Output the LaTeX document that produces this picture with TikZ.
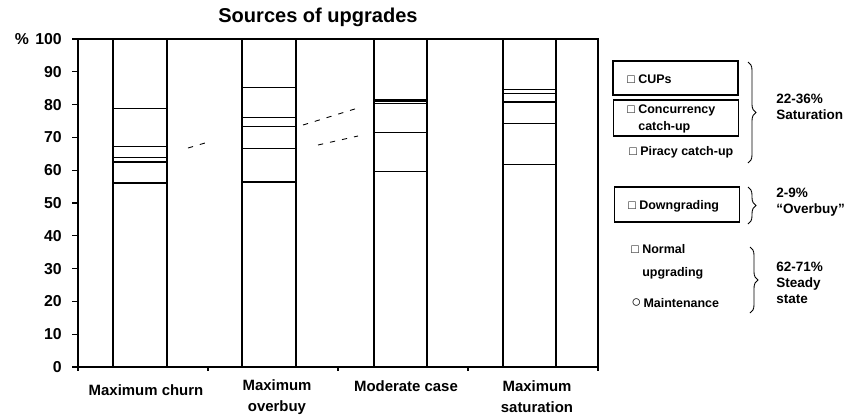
\documentclass[tikz,border=0pt]{standalone}
\usepackage{fontspec}
\setmainfont{Liberation Sans}
\usetikzlibrary{decorations.pathreplacing,positioning}

\tikzset{
  frame/.style={line width=0.6pt},
  bar/.style={draw, line width=0.6pt},
  guide/.style={dashed, line width=0.5pt, dash pattern=on 3pt off 4pt},
  legbox/.style={draw, line width=0.6pt, minimum width=2.5cm, inner sep=0pt},
  legtext/.style={anchor=west, inner sep=0pt, align=left,
    font=\fontsize{7.1}{9.6}\selectfont\bfseries},
  sumtext/.style={anchor=west, inner sep=0pt, align=left,
    font=\fontsize{7.7}{9}\selectfont\bfseries},
  axtext/.style={inner sep=0pt, align=center,
    font=\fontsize{8.5}{12}\selectfont\bfseries},
  ticktext/.style={anchor=east, inner sep=0pt,
    font=\fontsize{9}{10}\selectfont\bfseries},
  curly/.style={decorate, decoration={brace, amplitude=0.16cm}, line width=0.5pt},
  declare function={py(\v)=367-3.28*\v;}
}

\begin{document}
\begin{tikzpicture}[x=0.02cm, y=-0.02cm]
      \useasboundingbox (0,0) rectangle (849,417);

      % title
      \node[font=\fontsize{11.4}{13}\selectfont\bfseries] (title) at (318,17) {Sources of upgrades};

      % frame and axis
      \draw[frame] (78,{py(0)}) rectangle (598,{py(100)});
      \foreach \v in {0,10,...,100} {
        \draw[frame] (72,{py(\v)}) -- (78,{py(\v)});
        \node[ticktext] (t\v) at (62,{py(\v)}) {\v};
      }
      \node[ticktext, anchor=center] (pct) at (22,{py(100)}) {\%};
      \foreach \x in {78,208,338,468,598}
        \draw[frame] (\x,{py(0)}) -- (\x,{py(0)+4});

      % the four bars, each cut at its stacked shares
      \draw[bar] (113,{py(0)}) rectangle (167,{py(100)});
      \foreach \v in {78.7,67.1,64.0,62.5,56.1}
        \draw[frame] (113,{py(\v)}) -- (167,{py(\v)});

      \draw[bar] (242,{py(0)}) rectangle (296,{py(100)});
      \foreach \v in {85.1,76.2,73.2,66.5,56.4}
        \draw[frame] (242,{py(\v)}) -- (296,{py(\v)});

      \draw[bar] (374,{py(0)}) rectangle (427,{py(100)});
      \foreach \v in {81.7,81.1,80.2,71.6,59.5}
        \draw[frame] (374,{py(\v)}) -- (427,{py(\v)});

      \draw[bar] (503,{py(0)}) rectangle (556,{py(100)});
      \foreach \v in {84.7,83.5,80.8,74.1,61.6}
        \draw[frame] (503,{py(\v)}) -- (556,{py(\v)});

      % dashed guides between bars
      \coordinate (g1a) at (188,148);
      \coordinate (g1b) at (205,143);
      \coordinate (g2a) at (303,125);
      \coordinate (g2b) at (358,108);
      \coordinate (g3a) at (318,145);
      \coordinate (g3b) at (358,136);
      \draw[guide] (g1a) -- (g1b);
      \draw[guide] (g2a) -- (g2b);
      \draw[guide] (g3a) -- (g3b);

      % category labels
      \node[axtext] (churn) at (146,390) {Maximum churn};
      \node[axtext] (overbuy) at (277,397) {Maximum\\overbuy};
      \node[axtext] (moderate) at (406,386) {Moderate case};
      \node[axtext] (saturation) at (537,397) {Maximum\\saturation};

      % legend
      \node[legbox, minimum height=0.68cm] (cupbox) at (675.5,78) {};
      \node[legtext] (cups) at (627,79) {□ CUPs};
      \node[legbox, minimum height=0.72cm] (concbox) at (676,118) {};
      \node[legtext] (conc) at (627,118.5) {□ Concurrency\\\phantom{□ }catch-up};
      \node[legtext] (piracy) at (629,152) {□ Piracy catch-up};
      \node[legbox, minimum height=0.7cm] (downbox) at (677,204.5) {};
      \node[legtext] (down) at (628,206) {□ Downgrading};
      \node[legtext] (normal) at (631,261.5) {□ Normal\\[3.5pt]\phantom{□ }upgrading};
      \node[legtext] (maint) at (631,303) {{\fontsize{9.5}{9}\selectfont ○}\,Maintenance};

      % braces and shares
      \coordinate (b1top) at (748,62);
      \coordinate (b1bot) at (748,163);
      \coordinate (b2top) at (748,187);
      \coordinate (b2bot) at (748,224);
      \coordinate (b3top) at (750,247);
      \coordinate (b3bot) at (750,313);
      \draw[curly] (b1top) -- (b1bot);
      \draw[curly] (b2top) -- (b2bot);
      \draw[curly] (b3top) -- (b3bot);
      \node[sumtext] (satshare) at (776,107) {22-36\%\\Saturation};
      \node[sumtext] (overshare) at (776,202.5) {2-9\%\\“Overbuy”};
      \node[sumtext] (steadyshare) at (776,283) {62-71\%\\Steady\\state};

\end{tikzpicture}
\end{document}
